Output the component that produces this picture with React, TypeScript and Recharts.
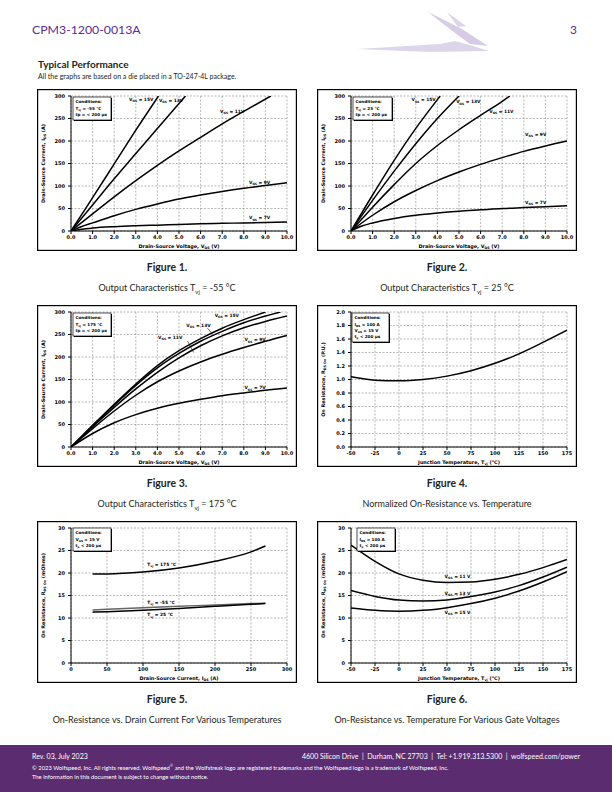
import React from 'react';
import { LineChart, Line, XAxis, YAxis, CartesianGrid, ReferenceDot, ReferenceLine } from 'recharts';

type Pt = [number, number];
type Rich = [string, string, string];

// Figure 1 - output characteristics, Tvj = -55 °C  [Vds, Ids]
const fig1Vgs15: Pt[] = [[0, 0], [0.5, 37], [1, 74], [2, 149], [3, 224], [4.05, 300]];
const fig1Vgs13: Pt[] = [[0, 0], [0.5, 29], [1, 58], [2, 116], [3, 172], [4, 228], [5.3, 300]];
const fig1Vgs11: Pt[] = [[0, 0], [1, 38], [2, 76], [3, 112], [4, 146], [5, 178], [6, 208], [7, 238], [8, 266], [9.25, 300]];
const fig1Vgs9: Pt[] = [[0, 0], [0.5, 10], [1, 18], [2, 34], [3, 48], [4, 60], [5, 71], [6, 80], [7, 88], [8, 95], [9, 101], [10, 107]];
const fig1Vgs7: Pt[] = [[0, 0], [0.5, 4], [1, 6.5], [2, 9.5], [3, 11.5], [4, 13], [5, 14.5], [6, 16], [7, 17], [8, 18], [9, 19], [10, 20]];

// Figure 2 - Tvj = 25 °C
const fig2Vgs15: Pt[] = [[0, 0], [1, 80], [2, 157], [3, 228], [4, 292], [4.13, 300]];
const fig2Vgs13: Pt[] = [[0, 0], [1, 68], [2, 133], [3, 194], [4, 250], [5, 300]];
const fig2Vgs11: Pt[] = [[0, 0], [1, 53], [2, 103], [3, 150], [4, 190], [5, 225], [6, 257], [7, 288], [7.35, 300]];
const fig2Vgs9: Pt[] = [[0, 0], [1, 35], [2, 65], [3, 90], [4, 112], [5, 131], [6, 148], [7, 163], [8, 177], [9, 189], [10, 200]];
const fig2Vgs7: Pt[] = [[0, 0], [0.5, 11], [1, 18], [2, 28], [3, 35], [4, 40], [5, 44], [6, 47], [7, 50], [8, 52], [9, 54], [10, 56]];

// Figure 3 - Tvj = 175 °C
const fig3Vgs15: Pt[] = [[0, 0], [1, 48], [2, 95], [3, 140], [4, 181], [5, 214], [6, 241], [7, 264], [8, 283], [9, 300]];
const fig3Vgs13: Pt[] = [[0, 0], [1, 47], [2, 93], [3, 137], [4, 176], [5, 208], [6, 235], [7, 257], [8, 276], [9, 291], [9.7, 300]];
const fig3Vgs11: Pt[] = [[0, 0], [1, 45], [2, 88], [3, 129], [4, 166], [5, 198], [6, 225], [7, 247], [8, 265], [9, 279], [10, 291]];
const fig3Vgs9: Pt[] = [[0, 0], [1, 41], [2, 80], [3, 115], [4, 145], [5, 169], [6, 189], [7, 206], [8, 221], [9, 235], [10, 248]];
const fig3Vgs7: Pt[] = [[0, 0], [1, 30], [2, 54], [3, 72], [4, 86], [5, 97], [6, 106], [7, 114], [8, 120], [9, 126], [10, 131]];

// Figure 4 - normalized on-resistance vs temperature
const fig4Temp = [-50, -25, 0, 25, 50, 75, 100, 125, 150, 175];
const fig4Rds = [1.04, 0.99, 0.98, 1.0, 1.05, 1.13, 1.24, 1.38, 1.55, 1.73];

// Figure 5 - on-resistance vs drain current
const fig5Id = [30, 50, 100, 150, 200, 250, 270];
const fig5R175 = [19.8, 19.8, 20.2, 21.1, 22.6, 24.7, 26.0];
const fig5Rm55 = [11.8, 11.95, 12.3, 12.6, 12.9, 13.2, 13.3];
const fig5R25 = [11.3, 11.4, 11.7, 12.1, 12.6, 13.05, 13.2];

// Figure 6 - on-resistance vs temperature, gate voltages
const fig6Temp = [-50, -25, 0, 25, 50, 75, 100, 125, 150, 175];
const fig6R11 = [26.2, 22.6, 19.8, 18.4, 17.9, 18.0, 18.6, 19.7, 21.2, 23.0];
const fig6R13 = [16.1, 14.8, 14.0, 13.8, 14.0, 14.8, 15.8, 17.2, 19.1, 21.3];
const fig6R15 = [12.2, 11.7, 11.5, 11.7, 12.3, 13.2, 14.4, 16.0, 18.0, 20.3];

const vdsTicks = [0, 1, 2, 3, 4, 5, 6, 7, 8, 9, 10];
const idsTicks = [0, 50, 100, 150, 200, 250, 300];
const tempTicks = [-50, -25, 0, 25, 50, 75, 100, 125, 150, 175];
const puTicks = [0, 0.2, 0.4, 0.6, 0.8, 1.0, 1.2, 1.4, 1.6, 1.8, 2.0];
const mOhmTicks = [0, 5, 10, 15, 20, 25, 30];

const zip = (xs: number[], ys: number[]): Pt[] => xs.map((x, i) => [x, ys[i]]);
const rows = (pts: Pt[]) => pts.map(([x, y]) => ({ x, y }));

const FONT = 'DejaVu Sans, Verdana, sans-serif';

interface Tag { x: number; y: number; text: Rich }
interface Leader { from: Pt; to: Pt }
interface Cond { x: number; y: number; w: number; h: number; lines: Rich[] }
interface Series { pts: Pt[]; color?: string }

function RichText({ parts, x, y, size, bold, anchor, transform }: {
  parts: Rich; x: number; y: number; size: number; bold?: boolean; anchor?: string; transform?: string;
}) {
  const [a, b, c] = parts;
  const d = size * 0.3;
  return (
    <text x={x} y={y} fontSize={size} fontWeight={bold ? 700 : 400} fontFamily={FONT}
      textAnchor={anchor || 'start'} transform={transform} fill="#000">
      {a}
      {b ? <tspan fontSize={size * 0.68} dy={d}>{b}</tspan> : null}
      {b ? <tspan dy={-d}>{c}</tspan> : c}
    </text>
  );
}

const W = 260;
const H = 162;

function Panel(props: {
  left: number; top: number;
  xDomain: [number, number]; xTicks: number[]; xFmt: (v: number) => string;
  yDomain: [number, number]; yTicks: number[]; yFmt: (v: number) => string;
  series: Series[]; tags?: Tag[]; leaders?: Leader[]; cond: Cond;
  xTitle: Rich; yTitle: Rich;
}) {
  const { left, top, series, tags = [], leaders = [], cond } = props;
  const tickStyle = { fontSize: 5, fontWeight: 700, fill: '#000', fontFamily: FONT };
  return (
    <div style={{ position: 'absolute', left, top, width: W, height: H }}>
      <LineChart width={W} height={H} margin={{ top: 7, right: 10, left: 0, bottom: 0 }}>
        <CartesianGrid stroke="#8a8a8a" strokeWidth={0.6} strokeDasharray="2 1.5" />
        <XAxis type="number" dataKey="x" domain={props.xDomain} ticks={props.xTicks} interval={0}
          tickFormatter={props.xFmt} allowDataOverflow height={20} tick={tickStyle}
          tickSize={3} tickMargin={1} stroke="#000" />
        <YAxis type="number" domain={props.yDomain} ticks={props.yTicks} interval={0}
          tickFormatter={props.yFmt} allowDataOverflow width={34} tick={tickStyle}
          tickSize={3} tickMargin={3} stroke="#000" />
        {series.map((s, i) => (
          <Line key={i} data={rows(s.pts)} dataKey="y" type="monotone" stroke={s.color || '#000'}
            strokeWidth={1.5} dot={false} isAnimationActive={false} />
        ))}
        {leaders.map((l, i) => (
          <ReferenceLine key={'l' + i} segment={[{ x: l.from[0], y: l.from[1] }, { x: l.to[0], y: l.to[1] }]}
            stroke="#000" strokeWidth={0.6} />
        ))}
        {tags.map((t, i) => (
          <ReferenceDot key={'t' + i} x={t.x} y={t.y} r={1}
            shape={(p: any) => <RichText parts={t.text} x={p.cx} y={p.cy} size={4.4} bold />} />
        ))}
      </LineChart>
      <svg width={W} height={H} style={{ position: 'absolute', left: 0, top: 0, pointerEvents: 'none' }}>
        <rect x={0.6} y={0.6} width={W - 1.2} height={H - 1.2} fill="none" stroke="#000" strokeWidth={1.2} />
        <rect x={cond.x + 1} y={cond.y + 1} width={cond.w} height={cond.h} fill="#000" />
        <rect x={cond.x} y={cond.y} width={cond.w} height={cond.h} fill="#fff" stroke="#000" strokeWidth={0.7} />
        {cond.lines.map((l, i) => (
          <RichText key={i} parts={l} x={cond.x + 2.5} y={cond.y + 6.2 + i * 6.3} size={4.1} bold />
        ))}
        <RichText parts={props.xTitle} x={142} y={158.5} size={4.9} bold anchor="middle" />
        <RichText parts={props.yTitle} x={0} y={0} size={4.9} bold anchor="middle"
          transform="translate(7.7,74.5) rotate(-90)" />
      </svg>
    </div>
  );
}

const f1 = (v: number) => v.toFixed(1);
const f0 = (v: number) => String(v);

const vdsTitle: Rich = ['Drain-Source Voltage, V', 'DS', ' (V)'];
const idsTitle: Rich = ['Drain-Source Current, I', 'DS', ' (A)'];
const tjTitle: Rich = ['Junction Temperature, T', 'vj', ' (°C)'];

const condLines = (t: string): Rich[] => [
  ['Conditions:', '', ''], ['T', 'vj', ' = ' + t], ['tp = < 200 µs', '', ''],
];
const vgs = (v: string): Rich => ['V', 'GS', ' = ' + v];
const tvj = (v: string): Rich => ['T', 'vj', ' = ' + v];

function Caption({ left, top, fig, parts }: { left: number; top: number; fig: string; parts: Rich }) {
  return (
    <>
      <div style={{ position: 'absolute', left, top: top + 171, width: W, textAlign: 'center', fontWeight: 700, fontSize: 10.5, lineHeight: '14px' }}>
        {fig}
      </div>
      <div style={{ position: 'absolute', left, top: top + 192, width: W, textAlign: 'center', fontSize: 9, lineHeight: '14px', whiteSpace: 'nowrap' }}>
        {parts[0]}{parts[1] ? <sub style={{ fontSize: 6 }}>{parts[1]}</sub> : null}{parts[2]}
      </div>
    </>
  );
}

export default function App() {
  const L = 37;
  const R = 317;
  const r1 = 89;
  const r2 = 305;
  const r3 = 521;
  return (
    <div style={{ position: 'absolute', left: 0, top: 0, width: 612, height: 792, background: '#fff', overflow: 'hidden', fontFamily: 'Lato, sans-serif', color: '#231f20' }}>
      <svg width={612} height={60} style={{ position: 'absolute', left: 0, top: 0 }}>
        <polygon points="357,49 440,44 455,41 470,45 489,51 430,52" fill="#ddd6ea" />
        <polygon points="428,12 462,29 488,46 470,44 455,33" fill="#d6cce6" />
        <polygon points="447,12 466,26 458,27" fill="#ddd6ea" />
      </svg>
      <div style={{ position: 'absolute', left: 32, top: 22, fontSize: 12.3, lineHeight: '16px', color: '#5c2d91' }}>CPM3-1200-0013A</div>
      <div style={{ position: 'absolute', left: 570, top: 22, fontSize: 12, lineHeight: '16px', color: '#5c2d91' }}>3</div>
      <div style={{ position: 'absolute', left: 38, top: 58, fontSize: 10, fontWeight: 700, lineHeight: '13px' }}>Typical Performance</div>
      <div style={{ position: 'absolute', left: 38, top: 72, fontSize: 7, lineHeight: '9px' }}>All the graphs are based on a die placed in a TO-247-4L package.</div>

      <Panel left={L} top={r1} xDomain={[0, 10]} xTicks={vdsTicks} xFmt={f1} yDomain={[0, 300]} yTicks={idsTicks} yFmt={f0}
        series={[{ pts: fig1Vgs15 }, { pts: fig1Vgs13 }, { pts: fig1Vgs11 }, { pts: fig1Vgs9 }, { pts: fig1Vgs7 }]}
        tags={[
          { x: 2.69, y: 290, text: vgs('15V') }, { x: 4.07, y: 287, text: vgs('13V') }, { x: 6.9, y: 263, text: vgs('11V') },
          { x: 8.24, y: 105, text: vgs('9V') }, { x: 8.24, y: 25.6, text: vgs('7V') },
        ]}
        cond={{ x: 36, y: 8, w: 38, h: 23, lines: condLines('-55 °C') }}
        xTitle={vdsTitle} yTitle={idsTitle} />
      <Caption left={L} top={r1} fig="Figure 1." parts={['Output Characteristics T', 'vj', ' = -55 °C']} />

      <Panel left={R} top={r1} xDomain={[0, 10]} xTicks={vdsTicks} xFmt={f1} yDomain={[0, 300]} yTicks={idsTicks} yFmt={f0}
        series={[{ pts: fig2Vgs15 }, { pts: fig2Vgs13 }, { pts: fig2Vgs11 }, { pts: fig2Vgs9 }, { pts: fig2Vgs7 }]}
        tags={[
          { x: 2.8, y: 288, text: vgs('15V') }, { x: 4.87, y: 284, text: vgs('13V') }, { x: 6.4, y: 263, text: vgs('11V') },
          { x: 8.06, y: 211, text: vgs('9V') }, { x: 8.06, y: 60, text: vgs('7V') },
        ]}
        cond={{ x: 36, y: 8, w: 39, h: 23, lines: condLines('25 °C') }}
        xTitle={vdsTitle} yTitle={idsTitle} />
      <Caption left={R} top={r1} fig="Figure 2." parts={['Output Characteristics T', 'vj', ' = 25 °C']} />

      <Panel left={L} top={r2} xDomain={[0, 10]} xTicks={vdsTicks} xFmt={f1} yDomain={[0, 300]} yTicks={idsTicks} yFmt={f0}
        series={[{ pts: fig3Vgs15 }, { pts: fig3Vgs13 }, { pts: fig3Vgs11 }, { pts: fig3Vgs9 }, { pts: fig3Vgs7 }]}
        tags={[
          { x: 6.65, y: 290, text: vgs('15V') }, { x: 5.34, y: 267, text: vgs('13V') }, { x: 4.03, y: 240, text: vgs('11V') },
          { x: 8.03, y: 235, text: vgs('9V') }, { x: 8.03, y: 128, text: vgs('7V') },
        ]}
        leaders={[{ from: [6.32, 264], to: [6.55, 251] }, { from: [5.4, 235], to: [5.68, 210] }]}
        cond={{ x: 36, y: 8, w: 38, h: 23, lines: condLines('175 °C') }}
        xTitle={vdsTitle} yTitle={idsTitle} />
      <Caption left={L} top={r2} fig="Figure 3." parts={['Output Characteristics T', 'vj', ' = 175 °C']} />

      <Panel left={R} top={r2} xDomain={[-50, 175]} xTicks={tempTicks} xFmt={f0} yDomain={[0, 2]} yTicks={puTicks} yFmt={f1}
        series={[{ pts: zip(fig4Temp, fig4Rds) }]}
        cond={{ x: 35, y: 8, w: 37, h: 29, lines: [['Conditions:', '', ''], ['I', 'DS', ' = 100 A'], ['V', 'GS', ' = 15 V'], ['t', 'p', ' < 200 µs']] }}
        xTitle={tjTitle} yTitle={['On Resistance, R', 'DS On', ' (P.U.)']} />
      <Caption left={R} top={r2} fig="Figure 4." parts={['Normalized On-Resistance vs. Temperature', '', '']} />

      <Panel left={L} top={r3} xDomain={[0, 300]} xTicks={idsTicks} xFmt={f0} yDomain={[0, 30]} yTicks={mOhmTicks} yFmt={f0}
        series={[{ pts: zip(fig5Id, fig5R175) }, { pts: zip(fig5Id, fig5Rm55), color: '#666' }, { pts: zip(fig5Id, fig5R25) }]}
        tags={[
          { x: 106, y: 21.6, text: tvj('175 °C') }, { x: 106, y: 13.2, text: tvj('-55 °C') }, { x: 106, y: 10.4, text: tvj('25 °C') },
        ]}
        cond={{ x: 36, y: 7, w: 38, h: 23, lines: [['Conditions:', '', ''], ['V', 'GS', ' = 15 V'], ['t', 'p', ' < 200 µs']] }}
        xTitle={idsTitle} yTitle={['On Resistance, R', 'DS On', ' (mOhms)']} />
      <Caption left={L} top={r3} fig="Figure 5." parts={['On-Resistance vs. Drain Current For Various Temperatures', '', '']} />

      <Panel left={R} top={r3} xDomain={[-50, 175]} xTicks={tempTicks} xFmt={f0} yDomain={[0, 30]} yTicks={mOhmTicks} yFmt={f0}
        series={[{ pts: zip(fig6Temp, fig6R11) }, { pts: zip(fig6Temp, fig6R13) }, { pts: zip(fig6Temp, fig6R15) }]}
        tags={[
          { x: 47.5, y: 19.0, text: vgs('11 V') }, { x: 47.5, y: 15.2, text: vgs('13 V') }, { x: 47.5, y: 11.0, text: vgs('15 V') },
        ]}
        cond={{ x: 40, y: 7, w: 38, h: 23, lines: [['Conditions:', '', ''], ['I', 'DS', ' = 100 A'], ['t', 'p', ' < 200 µs']] }}
        xTitle={tjTitle} yTitle={['On Resistance, R', 'DS On', ' (mOhms)']} />
      <Caption left={R} top={r3} fig="Figure 6." parts={['On-Resistance vs. Temperature For Various Gate Voltages', '', '']} />

      <div style={{ position: 'absolute', left: 0, top: 745, width: 612, height: 47, background: '#5b2c6f', color: '#fff', whiteSpace: 'nowrap', lineHeight: 1 }}>
        <div style={{ position: 'absolute', left: 32, top: 8, fontSize: 7 }}>Rev. 03, July 2023</div>
        <div style={{ position: 'absolute', right: 32, top: 8, fontSize: 7 }}>4600 Silicon Drive&nbsp;&nbsp;|&nbsp;&nbsp;Durham, NC 27703&nbsp;&nbsp;|&nbsp;&nbsp;Tel: +1.919.313.5300&nbsp;&nbsp;|&nbsp;&nbsp;wolfspeed.com/power</div>
        <div style={{ position: 'absolute', left: 32, top: 19, fontSize: 5.8 }}>© 2023 Wolfspeed, Inc. All rights reserved. Wolfspeed<sup style={{ fontSize: 4 }}>®</sup> and the Wolfstreak logo are registered trademarks and the Wolfspeed logo is a trademark of Wolfspeed, Inc.</div>
        <div style={{ position: 'absolute', left: 32, top: 29, fontSize: 5.8 }}>The information in this document is subject to change without notice.</div>
      </div>
    </div>
  );
}
